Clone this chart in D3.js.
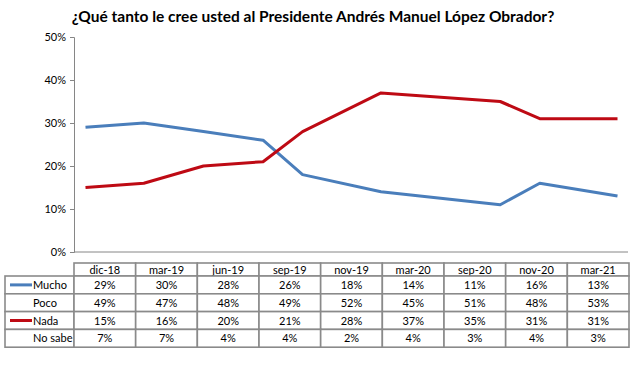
<!DOCTYPE html>
<html>
<head>
<meta charset="utf-8">
<script src="https://cdn.jsdelivr.net/npm/d3@7"></script>
<style>
  body { margin: 0; background: #fff; }
  text { font-family: Lato, "Open Sans", sans-serif; fill: #000; }
</style>
</head>
<body>
<svg id="chart" width="640" height="372"></svg>
<script>
// data
var categories = ["dic-18", "mar-19", "jun-19", "sep-19", "nov-19", "mar-20", "sep-20", "nov-20", "mar-21"];
var mucho = [29, 30, 28, 26, 18, 14, 11, 16, 13];
var poco = [49, 47, 48, 49, 52, 45, 51, 48, 53];
var nada = [15, 16, 20, 21, 28, 37, 35, 31, 31];
var noSabe = [7, 7, 4, 4, 2, 4, 3, 4, 3];
var yTicks = [0, 10, 20, 30, 40, 50];
var title = "¿Qué tanto le cree usted al Presidente Andrés Manuel López Obrador?";

var rows = [
  { name: "Mucho", values: mucho, color: "#4a7ebb" },
  { name: "Poco", values: poco, color: null },
  { name: "Nada", values: nada, color: "#be0a14" },
  { name: "No sabe", values: noSabe, color: null }
];

var meses = { ene: 0, feb: 1, mar: 2, abr: 3, may: 4, jun: 5, jul: 6, ago: 7, sep: 8, oct: 9, nov: 10, dic: 11 };
function toDate(s) {
  var p = s.split("-");
  return new Date(2000 + (+p[1]), meses[p[0]], 1);
}
var dates = categories.map(toDate);

var svg = d3.select("#chart");
var plotL = 74, plotR = 628, plotT = 37, plotB = 252;

var x = d3.scaleTime().domain(d3.extent(dates)).range([85.5, 617.5]);
var y = d3.scaleLinear().domain([0, 50]).range([plotB, plotT]);

// title
svg.append("text")
  .attr("x", 313).attr("y", 22)
  .attr("text-anchor", "middle")
  .style("font-size", "15.5px").style("font-weight", "bold")
  .text(title);

// y axis
var yAxis = svg.append("g")
  .attr("transform", "translate(" + plotL + ",0)")
  .call(d3.axisLeft(y).tickValues(yTicks).tickSize(4).tickPadding(4)
    .tickFormat(function(d) { return d + "%"; }));
yAxis.select(".domain").attr("stroke", "#868686");
yAxis.selectAll(".tick line").attr("stroke", "#868686");
yAxis.selectAll(".tick text").style("font-size", "11px").style("font-family", "Lato, sans-serif").attr("fill", "#000");

// x baseline
svg.append("line")
  .attr("x1", plotL).attr("x2", plotR)
  .attr("y1", y(0)).attr("y2", y(0))
  .attr("stroke", "#868686").attr("stroke-width", 1);

// lines
var line = d3.line()
  .x(function(d, i) { return x(dates[i]); })
  .y(function(d) { return y(d); });

rows.filter(function(r) { return r.color; }).forEach(function(r) {
  svg.append("path")
    .datum(r.values)
    .attr("d", line)
    .attr("fill", "none")
    .attr("stroke", r.color)
    .attr("stroke-width", 3)
    .attr("stroke-linejoin", "round");
});

// data table
var tableT = 263, headH = 13, rowH = 17.8, labelL = 5;
var col = d3.scaleBand().domain(categories).range([plotL, 629]);
var tbl = svg.append("g");
var border = "#8a8a8a";

// header cells
tbl.selectAll(".hcell").data(categories).enter().append("rect")
  .attr("class", "hcell")
  .attr("x", function(d) { return col(d); })
  .attr("y", tableT)
  .attr("width", col.bandwidth())
  .attr("height", headH)
  .attr("fill", "#fff").attr("stroke", border).attr("stroke-width", 1.6);

tbl.selectAll(".htext").data(categories).enter().append("text")
  .attr("class", "htext")
  .attr("x", function(d) { return col(d) + col.bandwidth() / 2; })
  .attr("y", tableT + headH / 2 + 4)
  .attr("text-anchor", "middle")
  .style("font-size", "11px")
  .text(function(d) { return d; });

rows.forEach(function(r, ri) {
  var top = tableT + headH + ri * rowH;
  tbl.append("rect")
    .attr("x", labelL).attr("y", top)
    .attr("width", plotL - labelL).attr("height", rowH)
    .attr("fill", "#fff").attr("stroke", border).attr("stroke-width", 1.6);
  tbl.selectAll(".c" + ri).data(r.values).enter().append("rect")
    .attr("class", "c" + ri)
    .attr("x", function(d, i) { return col(categories[i]); })
    .attr("y", top)
    .attr("width", col.bandwidth()).attr("height", rowH)
    .attr("fill", "#fff").attr("stroke", border).attr("stroke-width", 1.6);
  tbl.selectAll(".t" + ri).data(r.values).enter().append("text")
    .attr("class", "t" + ri)
    .attr("x", function(d, i) { return col(categories[i]) + col.bandwidth() / 2; })
    .attr("y", top + rowH / 2 + 4)
    .attr("text-anchor", "middle")
    .style("font-size", "11px")
    .text(function(d) { return d + "%"; });
  if (r.color) {
    tbl.append("line")
      .attr("x1", 10).attr("x2", 32)
      .attr("y1", top + rowH / 2).attr("y2", top + rowH / 2)
      .attr("stroke", r.color).attr("stroke-width", 3);
  }
  tbl.append("text")
    .attr("x", 33).attr("y", top + rowH / 2 + 4)
    .style("font-size", "11px")
    .text(r.name);
});
</script>
</body>
</html>
